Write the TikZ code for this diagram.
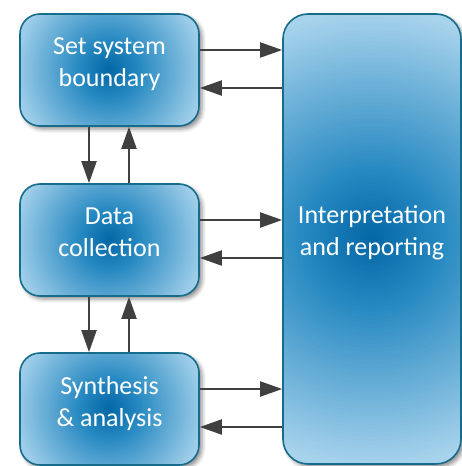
\documentclass[tikz,border=0pt]{standalone}
\usepackage{fontspec}
\setmainfont{Carlito}
\usetikzlibrary{arrows.meta,shadows.blur,calc}
\definecolor{cajaosc}{RGB}{2,102,165}
\definecolor{cajamed}{RGB}{40,138,194}
\definecolor{cajacla}{RGB}{168,211,236}
\definecolor{borde}{RGB}{22,108,138}
\definecolor{flecha}{RGB}{64,64,64}
\tikzset{
	tono/.code={\pgfmathsetmacro\radrel{#1/60}%
		\ifdim\radrel pt<0.3pt \pgfmathsetmacro\mezcla{\radrel/0.3*100}\colorlet{tonoact}{cajamed!\mezcla!cajaosc}%
		\else\ifdim\radrel pt<0.95pt \pgfmathsetmacro\mezcla{(\radrel-0.3)/0.65*100}\colorlet{tonoact}{cajacla!\mezcla!cajamed}%
		\else\colorlet{tonoact}{cajacla}\fi\fi
		\pgfsetfillcolor{tonoact}},
	paso/.style={draw=borde, line width=1.6pt, rounded corners=20pt, text=white, align=center, font=\fontsize{26}{32}\selectfont, minimum width=179pt, minimum height=112pt, inner sep=0pt, execute at end node={\rule[-16pt]{0pt}{0pt}},
		path picture={\foreach \k in {60,59,...,1} {\fill[tono=\k] let \p1=($(path picture bounding box.north east)-(path picture bounding box.center)$), \n1={veclen(\x1,\y1)*\k/60} in (path picture bounding box.center) circle[radius=\n1];}},
		blur shadow={shadow xshift=3pt, shadow yshift=-3pt, shadow blur radius=4pt, shadow opacity=45}},
	flechas/.style={draw=flecha, line width=2pt, -{Triangle[length=22pt, width=15pt]}}
}
\begin{document}
\begin{tikzpicture}[x=1pt, y=-1pt]
		   		\useasboundingbox (0,0) rectangle (462,466);
		   			% Cajas
		   				\node[paso] (limite) at (109.5,70) {Set system\\boundary};
		   				\node[paso] (datos) at (109.5,240) {Data\\collection};
		   				\node[paso] (sintesis) at (109.5,409) {Synthesis\\\& analysis};
		   				\node[paso, rounded corners=25pt, minimum width=178pt, minimum height=450pt] (informe) at (372,239) {Interpretation\\and reporting};
		   			% Flechas verticales
			   			\draw[flechas] ([xshift=-20.5pt]limite.south) -- ([xshift=-20.5pt]datos.north);
			   			\draw[flechas] ([xshift=19.5pt]datos.north) -- ([xshift=19.5pt]limite.south);
			   			\draw[flechas] ([xshift=-20.5pt]datos.south) -- ([xshift=-20.5pt]sintesis.north);
			   			\draw[flechas] ([xshift=19.5pt]sintesis.north) -- ([xshift=19.5pt]datos.south);
		   			% Flechas horizontales
			   			\foreach \caja in {limite, datos, sintesis} {
			   				\draw[flechas] ([yshift=20pt]\caja.east) -- ([yshift=20pt]\caja.east -| informe.west);
			   				\draw[flechas] ([yshift=-18pt]\caja.east -| informe.west) -- ([yshift=-18pt]\caja.east);
			   			}
		   		\end{tikzpicture}
\end{document}
